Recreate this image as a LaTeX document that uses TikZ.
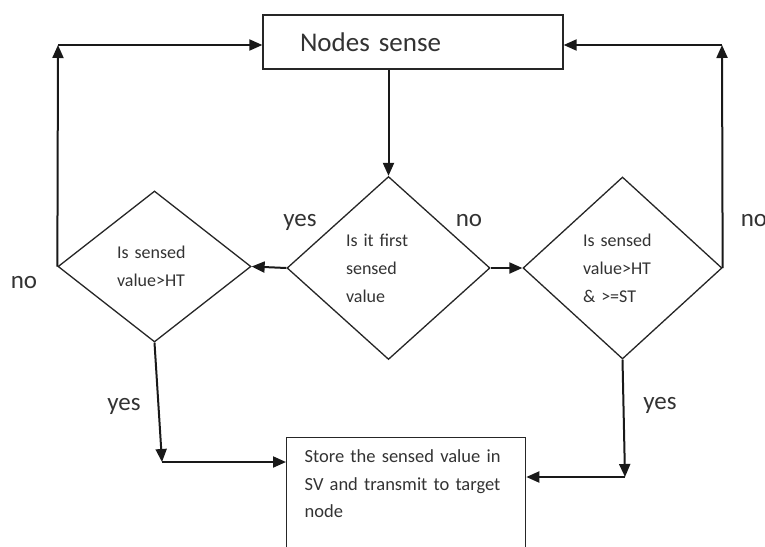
\documentclass[tikz,border=0pt]{standalone}
\usepackage{fontspec}
\setmainfont{Carlito}
\usetikzlibrary{shapes.geometric, arrows.meta, positioning}

\tikzset{
  procbox/.style={draw=black!85, line width=1.3pt, align=left},
  decision/.style={diamond, draw=black!85, line width=1.3pt, inner sep=0pt, align=left, font=\fontsize{18}{28}\selectfont},
  flow/.style={draw=black!90, line width=2pt, -{Triangle[length=13pt, width=11pt]}},
  answer/.style={font=\fontsize{25}{30}\selectfont, anchor=base}
}

\begin{document}
\begin{tikzpicture}[x=1pt, y=-1pt, text=black!80]
\useasboundingbox[fill=white] (0,0) rectangle (765,546);

% Sensing step
\node[procbox, minimum width=300pt, minimum height=54pt, text width=226pt, inner xsep=37pt, font=\fontsize{27}{32}\selectfont] (sense) at (413,42) {Nodes sense};

% Decisions
\node[decision, minimum width=203pt, minimum height=183pt, text width=85pt] (first) at (388.5,268) {Is it first\\sensed\\value};
\node[decision, minimum width=193pt, minimum height=151pt, text width=75pt] (httest) at (154.5,266.5) {Is sensed\\value>HT};
\node[decision, minimum width=199pt, minimum height=182pt, text width=79pt] (sttest) at (622.5,268) {Is sensed\\value>HT\\\& >=ST};

% Storing step (runs off the bottom edge)
\node[procbox, anchor=north west, text width=203pt, inner xsep=18pt, inner ysep=11pt, text height=14pt, text depth=100pt, font=\fontsize{18.5}{27.5}\selectfont] (store) at (286,437) {Store the sensed value in\\SV and transmit to target\\node};

% Bends
\coordinate (lcorner) at (58,45);
\coordinate (rcorner) at (722,45);
\coordinate (lbend) at (162,462);
\coordinate (rbend) at (625,477);

% Connectors
\draw[flow] (first.north |- sense.south) -- (first.north);
\draw[flow] (first.west) -- (httest.east);
\draw[flow] (first.east) -- (sttest.west);
\draw[flow] (httest.west) -- (lcorner);
\draw[flow] (lcorner) -- (sense.west |- lcorner);
\draw[flow] (sttest.east) -- (rcorner);
\draw[flow] (rcorner) -- (sense.east |- rcorner);
\draw[flow] (httest.south) -- (lbend);
\draw[flow] (lbend) -- (store.west |- lbend);
\draw[flow] (sttest.south) -- (rbend);
\draw[flow] (rbend) -- (store.east |- rbend);

% Answers
\node[answer] (yesfirst) at (300,226) {yes};
\node[answer] (nofirst) at (469,226) {no};
\node[answer] (noht) at (24,288) {no};
\node[answer] (yesht) at (124,410) {yes};
\node[answer] (nost) at (754,226) {no};
\node[answer] (yesst) at (660,409) {yes};
\end{tikzpicture}
\end{document}
